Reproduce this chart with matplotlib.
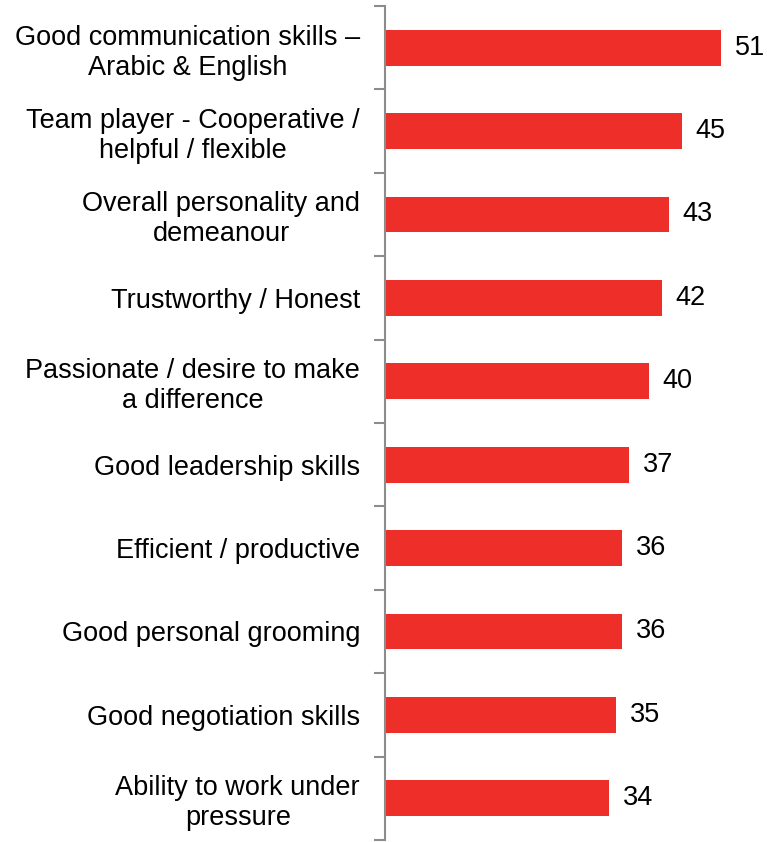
import matplotlib
matplotlib.use("Agg")
import matplotlib.pyplot as plt
import numpy as np

# chart data (top to bottom)
attributes = [
    "Good communication skills \u2013\nArabic & English",
    "Team player - Cooperative /\nhelpful / flexible",
    "Overall personality and\ndemeanour",
    "Trustworthy / Honest",
    "Passionate / desire to make\na difference",
    "Good leadership skills",
    "Efficient / productive",
    "Good personal grooming",
    "Good negotiation skills",
    "Ability to work under\npressure",
]
scores = [51, 45, 43, 42, 40, 37, 36, 36, 35, 34]

bar_color = "#EE2E28"
axis_gray = "#8C8C8C"

plt.rcParams["font.family"] = ["Liberation Sans", "DejaVu Sans"]

fig = plt.figure(figsize=(7.67, 8.42), dpi=100)
ax = fig.add_axes([0.502, 0.0024, 0.49, 0.9905])

y = np.arange(len(attributes))
ax.barh(y, scores, height=0.43, color=bar_color)
ax.set_ylim(len(attributes) - 0.5, -0.5)
ax.set_xlim(0, 57)

# value labels
for yi, v in zip(y, scores):
    ax.text(v + 2.1, yi, str(v), va="center", ha="left", fontsize=19.5, color="black")

# category labels and boundary ticks
ax.set_yticks(y)
ax.set_yticklabels(attributes, fontsize=19.5, linespacing=1.2, multialignment="center")
ax.tick_params(axis="y", which="major", length=0, pad=18)
ax.set_yticks(np.arange(-0.5, len(attributes)), minor=True)
ax.tick_params(axis="y", which="minor", length=8, width=1.5, color=axis_gray, direction="out")

ax.set_xticks([])
for side in ["top", "right", "bottom"]:
    ax.spines[side].set_visible(False)
ax.spines["left"].set_color(axis_gray)
ax.spines["left"].set_linewidth(1.5)

fig.savefig("out.png", dpi=100)
